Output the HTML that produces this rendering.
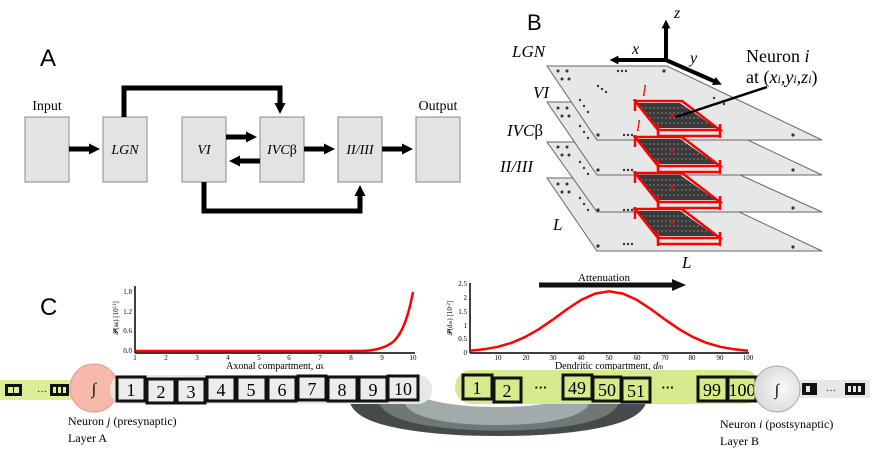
<!DOCTYPE html>
<html><head><meta charset="utf-8"><style>
html,body{margin:0;padding:0;background:#fff;}
svg{display:block;}
.s{font-family:"Liberation Serif",serif;}
.i{font-family:"Liberation Serif",serif;font-style:italic;}
</style></head><body>
<svg width="872" height="452" viewBox="0 0 872 452" xmlns="http://www.w3.org/2000/svg">
<defs>
<marker id="ah" markerWidth="2.2" markerHeight="2.2" refX="0.6" refY="1.1" orient="auto" markerUnits="strokeWidth"><path d="M0,0 L2.2,1.1 L0,2.2 Z" fill="#000"/></marker>
</defs>
<!-- Panel A -->
<text x="40" y="66" font-family="Liberation Sans,sans-serif" font-size="24">A</text>
<g fill="#e3e3e3" stroke="#888" stroke-width="1">
<rect x="25" y="117" width="44" height="65"/>
<rect x="103" y="117" width="44" height="65"/>
<rect x="182" y="117" width="44" height="65"/>
<rect x="260" y="117" width="44" height="65"/>
<rect x="338" y="117" width="44" height="65"/>
<rect x="416" y="117" width="44" height="65"/>
</g>
<text x="47" y="110" class="s" font-size="14" text-anchor="middle">Input</text>
<text x="438" y="110" class="s" font-size="14" text-anchor="middle">Output</text>
<g class="i" font-size="14" text-anchor="middle">
<text x="125" y="154">LGN</text>
<text x="204" y="154">VI</text>
<text x="282" y="154">IVC<tspan font-style="normal">β</tspan></text>
<text x="360" y="154">II/III</text>
</g>
<g stroke="#000" stroke-width="5" fill="none">
<path d="M69 149 H92" marker-end="url(#ah)"/>
<path d="M124 117 V88 H280 V106" marker-end="url(#ah)"/>
<path d="M226 137 H249" marker-end="url(#ah)"/>
<path d="M260 161 H237" marker-end="url(#ah)"/>
<path d="M304 149 H327" marker-end="url(#ah)"/>
<path d="M382 149 H405" marker-end="url(#ah)"/>
<path d="M204 182 V211 H360 V193" marker-end="url(#ah)"/>
</g>
<!-- Panel B -->
<text x="527" y="30" font-family="Liberation Sans,sans-serif" font-size="22">B</text>
<g stroke="#666" stroke-width="1" fill="#e6e8e8">
<polygon points="547,178 667,178 822,251 597,251"/>
<polygon points="547,142 667,142 822,212 597,212"/>
<polygon points="547,102 667,102 822,175 597,175"/>
<polygon points="547,66 667,66 822,140 597,140"/>
</g>
<g fill="#333">
<circle cx="558" cy="71" r="1.5"/><circle cx="567" cy="71" r="1.5"/><circle cx="562" cy="79" r="1.5"/><circle cx="569" cy="79" r="1.5"/>
<circle cx="558" cy="108" r="1.5"/><circle cx="567" cy="108" r="1.5"/><circle cx="562" cy="116" r="1.5"/><circle cx="569" cy="116" r="1.5"/>
<circle cx="558" cy="147" r="1.5"/><circle cx="567" cy="147" r="1.5"/><circle cx="562" cy="155" r="1.5"/><circle cx="569" cy="155" r="1.5"/>
<circle cx="558" cy="184" r="1.5"/><circle cx="567" cy="184" r="1.5"/><circle cx="562" cy="192" r="1.5"/><circle cx="569" cy="192" r="1.5"/>
<circle cx="618" cy="71" r="1.2"/><circle cx="622" cy="71" r="1.2"/><circle cx="626" cy="71" r="1.2"/>
<circle cx="664" cy="71" r="1.6"/>
<circle cx="598" cy="86" r="1.2"/><circle cx="602" cy="89" r="1.2"/><circle cx="606" cy="92" r="1.2"/>
<circle cx="580" cy="100" r="1.2"/><circle cx="584" cy="106" r="1.2"/><circle cx="588" cy="112" r="1.2"/>
<circle cx="580" cy="126" r="1.2"/><circle cx="584" cy="132" r="1.2"/><circle cx="588" cy="138" r="1.2"/>
<circle cx="580" cy="162" r="1.2"/><circle cx="584" cy="168" r="1.2"/><circle cx="588" cy="174" r="1.2"/>
<circle cx="580" cy="198" r="1.2"/><circle cx="584" cy="204" r="1.2"/><circle cx="588" cy="210" r="1.2"/>
<circle cx="598" cy="135" r="1.6"/><circle cx="624" cy="135" r="1.2"/><circle cx="628" cy="135" r="1.2"/><circle cx="632" cy="135" r="1.2"/><circle cx="793" cy="135" r="1.6"/>
<circle cx="598" cy="170" r="1.6"/><circle cx="624" cy="170" r="1.2"/><circle cx="628" cy="170" r="1.2"/><circle cx="632" cy="170" r="1.2"/><circle cx="793" cy="170" r="1.6"/>
<circle cx="598" cy="210" r="1.6"/><circle cx="624" cy="210" r="1.2"/><circle cx="628" cy="210" r="1.2"/><circle cx="632" cy="210" r="1.2"/><circle cx="793" cy="208" r="1.6"/>
<circle cx="598" cy="246" r="1.6"/><circle cx="624" cy="244" r="1.2"/><circle cx="628" cy="244" r="1.2"/><circle cx="632" cy="244" r="1.2"/><circle cx="793" cy="247" r="1.6"/>
<circle cx="714" cy="98" r="1.2"/><circle cx="724" cy="104" r="1.2"/>
</g>
<g id="rb">
<polygon points="637,103 680,103 716,128 658,128" fill="#3a3a3a"/>
<g stroke="#9a9a9a" stroke-width="0.8" stroke-dasharray="2 2">
<line x1="641" y1="108" x2="686" y2="108"/><line x1="645" y1="113" x2="693" y2="113"/><line x1="649" y1="118" x2="700" y2="118"/><line x1="653" y1="123" x2="708" y2="123"/>
</g>
<circle cx="672" cy="115" r="1.8" fill="#f00"/>
<g stroke="#f00" stroke-width="2.5" fill="none">
<path d="M635 101 L682 101 L720 130 L658 130 Z"/>
<path d="M635 99 V111 M658 124 V138 M720 124 V138 M658 136 H720"/>
</g>
</g>
<use href="#rb" y="36"/>
<use href="#rb" y="72"/>
<use href="#rb" y="108"/>
<g class="i" fill="#f00" font-size="16"><text x="642" y="96">l</text><text x="636" y="131">l</text></g>
<g class="i" font-size="17">
<text x="512" y="57">LGN</text>
<text x="533" y="98">VI</text>
<text x="507" y="136">IVC<tspan font-style="normal">β</tspan></text>
<text x="500" y="172">II/III</text>
<text x="553" y="230">L</text>
<text x="682" y="268">L</text>
</g>
<g stroke="#000" stroke-width="4" fill="none">
<path d="M666 60 V26" marker-end="url(#ah)"/>
<path d="M666 60 H616" marker-end="url(#ah)"/>
<path d="M666 60 L716 82" marker-end="url(#ah)"/>
</g>
<g class="i" font-size="16"><text x="674" y="18">z</text><text x="632" y="54">x</text><text x="690" y="63">y</text></g>
<line x1="767" y1="87" x2="676" y2="117" stroke="#000" stroke-width="2.5"/>
<text x="746" y="62" class="s" font-size="18">Neuron <tspan font-style="italic">i</tspan></text>
<text x="746" y="83" class="s" font-size="18">at (<tspan font-style="italic">x<tspan font-size="12">i</tspan>,y<tspan font-size="12">i</tspan>,z<tspan font-size="12">i</tspan></tspan>)</text>
<!-- Panel C -->
<text x="40" y="315" font-family="Liberation Sans,sans-serif" font-size="24">C</text>
<g stroke="#000" stroke-width="1.5"><line x1="135" y1="286" x2="135" y2="353"/><line x1="135" y1="353" x2="415" y2="353"/></g>
<g font-family="Liberation Serif,serif" font-size="7" text-anchor="middle">
<text x="135" y="360">1</text><text x="166" y="360">2</text><text x="197" y="360">3</text><text x="228" y="360">4</text><text x="259" y="360">5</text><text x="289" y="360">6</text><text x="320" y="360">7</text><text x="351" y="360">8</text><text x="382" y="360">9</text><text x="413" y="360">10</text>
<g text-anchor="end"><text x="132" y="294">1.8</text><text x="132" y="314">1.2</text><text x="132" y="333">0.6</text><text x="132" y="353">0.0</text></g>
</g>
<text x="118" y="318" class="s" font-size="7" transform="rotate(-90 118 318)" text-anchor="middle">𝓟(a<tspan font-size="5">k</tspan>) [10<tspan font-size="5" dy="-2">11</tspan><tspan dy="2">]</tspan></text>
<path d="M135 351 L360 351 C375 351 385 348 393 342 C402 334 408 318 413 292" stroke="#f00" stroke-width="2.5" fill="none"/>
<text x="275" y="369" class="s" font-size="10" text-anchor="middle">Axonal compartment, <tspan font-style="italic">a<tspan font-size="7">k</tspan></tspan></text>
<g stroke="#000" stroke-width="1.5"><line x1="470" y1="283" x2="470" y2="353"/><line x1="470" y1="353" x2="749" y2="353"/></g>
<g font-family="Liberation Serif,serif" font-size="7" text-anchor="middle">
<text x="498" y="360">10</text><text x="526" y="360">20</text><text x="553" y="360">30</text><text x="581" y="360">40</text><text x="609" y="360">50</text><text x="637" y="360">60</text><text x="665" y="360">70</text><text x="692" y="360">80</text><text x="720" y="360">90</text><text x="748" y="360">100</text>
<g text-anchor="end"><text x="467" y="286">2.5</text><text x="467" y="300">2</text><text x="467" y="314">1.5</text><text x="467" y="328">1</text><text x="467" y="341">0.5</text><text x="467" y="355">0</text></g>
</g>
<text x="452" y="318" class="s" font-size="7" transform="rotate(-90 452 318)" text-anchor="middle">𝓟(d<tspan font-size="5">m</tspan>) [10<tspan font-size="5" dy="-2">-2</tspan><tspan dy="2">]</tspan></text>
<path d="M470 350.7 L483.9 349.3 L497.8 346.8 L511.7 342.8 L525.6 336.8 L539.5 328.8 L553.4 319.2 L567.3 309 L581.2 299.9 L595.1 293.6 L609 291.3 L622.9 293.6 L636.8 299.9 L650.7 309 L664.6 319.2 L678.5 328.8 L692.4 336.8 L706.3 342.8 L720.2 346.8 L734.1 349.3 L748 350.7" stroke="#f00" stroke-width="2.5" fill="none" stroke-linejoin="round"/>
<text x="609" y="369" class="s" font-size="10" text-anchor="middle">Dendritic compartment, <tspan font-style="italic">d<tspan font-size="7">m</tspan></tspan></text>
<line x1="539" y1="285" x2="674" y2="285" stroke="#111" stroke-width="5"/>
<polygon points="672,279 686,285 672,291" fill="#111"/>
<text x="604" y="281" class="s" font-size="11" text-anchor="middle">Attenuation</text>
<g fill="none" stroke-linecap="butt">
<path d="M360 398 C366 434 630 434 636 398" stroke="#454b4b" stroke-width="22"/>
<path d="M388 398 C394 428 604 428 610 398" stroke="#6f7777" stroke-width="20"/>
<path d="M412 398 C418 422 576 422 582 398" stroke="#a2abab" stroke-width="18"/>
</g>
<rect x="0" y="380" width="78" height="20" fill="#dbef9a"/>
<rect x="5" y="384" width="17" height="12" fill="#111"/><rect x="8" y="387" width="5" height="6" fill="#dbef9a"/><rect x="14" y="387" width="5" height="6" fill="#dbef9a"/>
<text x="37" y="394" font-family="Liberation Sans,sans-serif" font-size="10">···</text>
<rect x="50" y="384" width="19" height="12" fill="#111"/><rect x="53" y="387" width="3" height="6" fill="#dbef9a"/><rect x="58" y="387" width="3" height="6" fill="#dbef9a"/><rect x="63" y="387" width="3" height="6" fill="#dbef9a"/>
<circle cx="94" cy="388" r="24" fill="#f7b9aa" stroke="#d99" stroke-width="1"/>
<text x="94" y="394" class="s" font-size="16" text-anchor="middle">∫</text>
<rect x="110" y="375" width="322" height="29" rx="14" fill="#e6e7e7"/>
<g fill="#ececec" stroke="#111" stroke-width="3">
<rect x="117" y="377" width="28" height="24"/><rect x="147" y="379" width="28" height="24"/><rect x="177" y="379" width="28" height="24"/><rect x="207" y="377" width="28" height="24"/><rect x="237" y="377" width="29" height="24"/><rect x="268" y="377" width="28" height="24"/><rect x="298" y="376" width="28" height="24"/><rect x="328" y="377" width="29" height="24"/><rect x="359" y="377" width="28" height="24"/><rect x="388" y="376" width="30" height="24"/>
</g>
<g class="s" font-size="18" text-anchor="middle">
<text x="131" y="396">1</text><text x="161" y="398">2</text><text x="191" y="398">3</text><text x="221" y="396">4</text><text x="251" y="396">5</text><text x="282" y="396">6</text><text x="312" y="395">7</text><text x="342" y="396">8</text><text x="373" y="396">9</text><text x="403" y="395">10</text>
</g>
<rect x="455" y="370" width="305" height="34" rx="17" fill="#d6ec8c"/>
<g fill="#d6ec8c" stroke="#111" stroke-width="3">
<rect x="463" y="375" width="29" height="24"/><rect x="494" y="378" width="27" height="24"/><rect x="563" y="375" width="29" height="24"/><rect x="593" y="377" width="28" height="24"/><rect x="622" y="378" width="28" height="24"/><rect x="698" y="377" width="29" height="24"/><rect x="728" y="377" width="28" height="24"/>
</g>
<g class="s" font-size="18" text-anchor="middle">
<text x="477" y="394">1</text><text x="507" y="397">2</text><text x="577" y="394">49</text><text x="607" y="396">50</text><text x="636" y="397">51</text><text x="712" y="396">99</text><text x="742" y="396">100</text>
</g>
<text x="541" y="392" font-family="Liberation Sans,sans-serif" font-size="13" font-weight="bold" text-anchor="middle">···</text>
<text x="668" y="392" font-family="Liberation Sans,sans-serif" font-size="13" font-weight="bold" text-anchor="middle">···</text>
<rect x="790" y="380" width="80" height="18" fill="#e6e7e7"/>
<rect x="802" y="383" width="15" height="12" fill="#111"/><rect x="806" y="386" width="4" height="6" fill="#e6e7e7"/>
<text x="826" y="393" font-family="Liberation Sans,sans-serif" font-size="10">···</text>
<rect x="845" y="383" width="20" height="12" fill="#111"/><rect x="848" y="386" width="3" height="6" fill="#e6e7e7"/><rect x="853" y="386" width="3" height="6" fill="#e6e7e7"/><rect x="858" y="386" width="3" height="6" fill="#e6e7e7"/>
<defs><radialGradient id="gg" cx="0.6" cy="0.5" r="0.6"><stop offset="0" stop-color="#fafafa"/><stop offset="1" stop-color="#d8d8d8"/></radialGradient></defs>
<circle cx="777" cy="389" r="23" fill="url(#gg)" stroke="#aaa" stroke-width="1"/>
<text x="777" y="395" class="s" font-size="16" text-anchor="middle">∫</text>
<text x="68" y="425" class="s" font-size="12">Neuron <tspan font-style="italic">j</tspan> (presynaptic)</text>
<text x="68" y="442" class="s" font-size="12">Layer A</text>
<text x="720" y="428" class="s" font-size="12">Neuron <tspan font-style="italic">i</tspan> (postsynaptic)</text>
<text x="720" y="445" class="s" font-size="12">Layer B</text>
</svg>
</body></html>
